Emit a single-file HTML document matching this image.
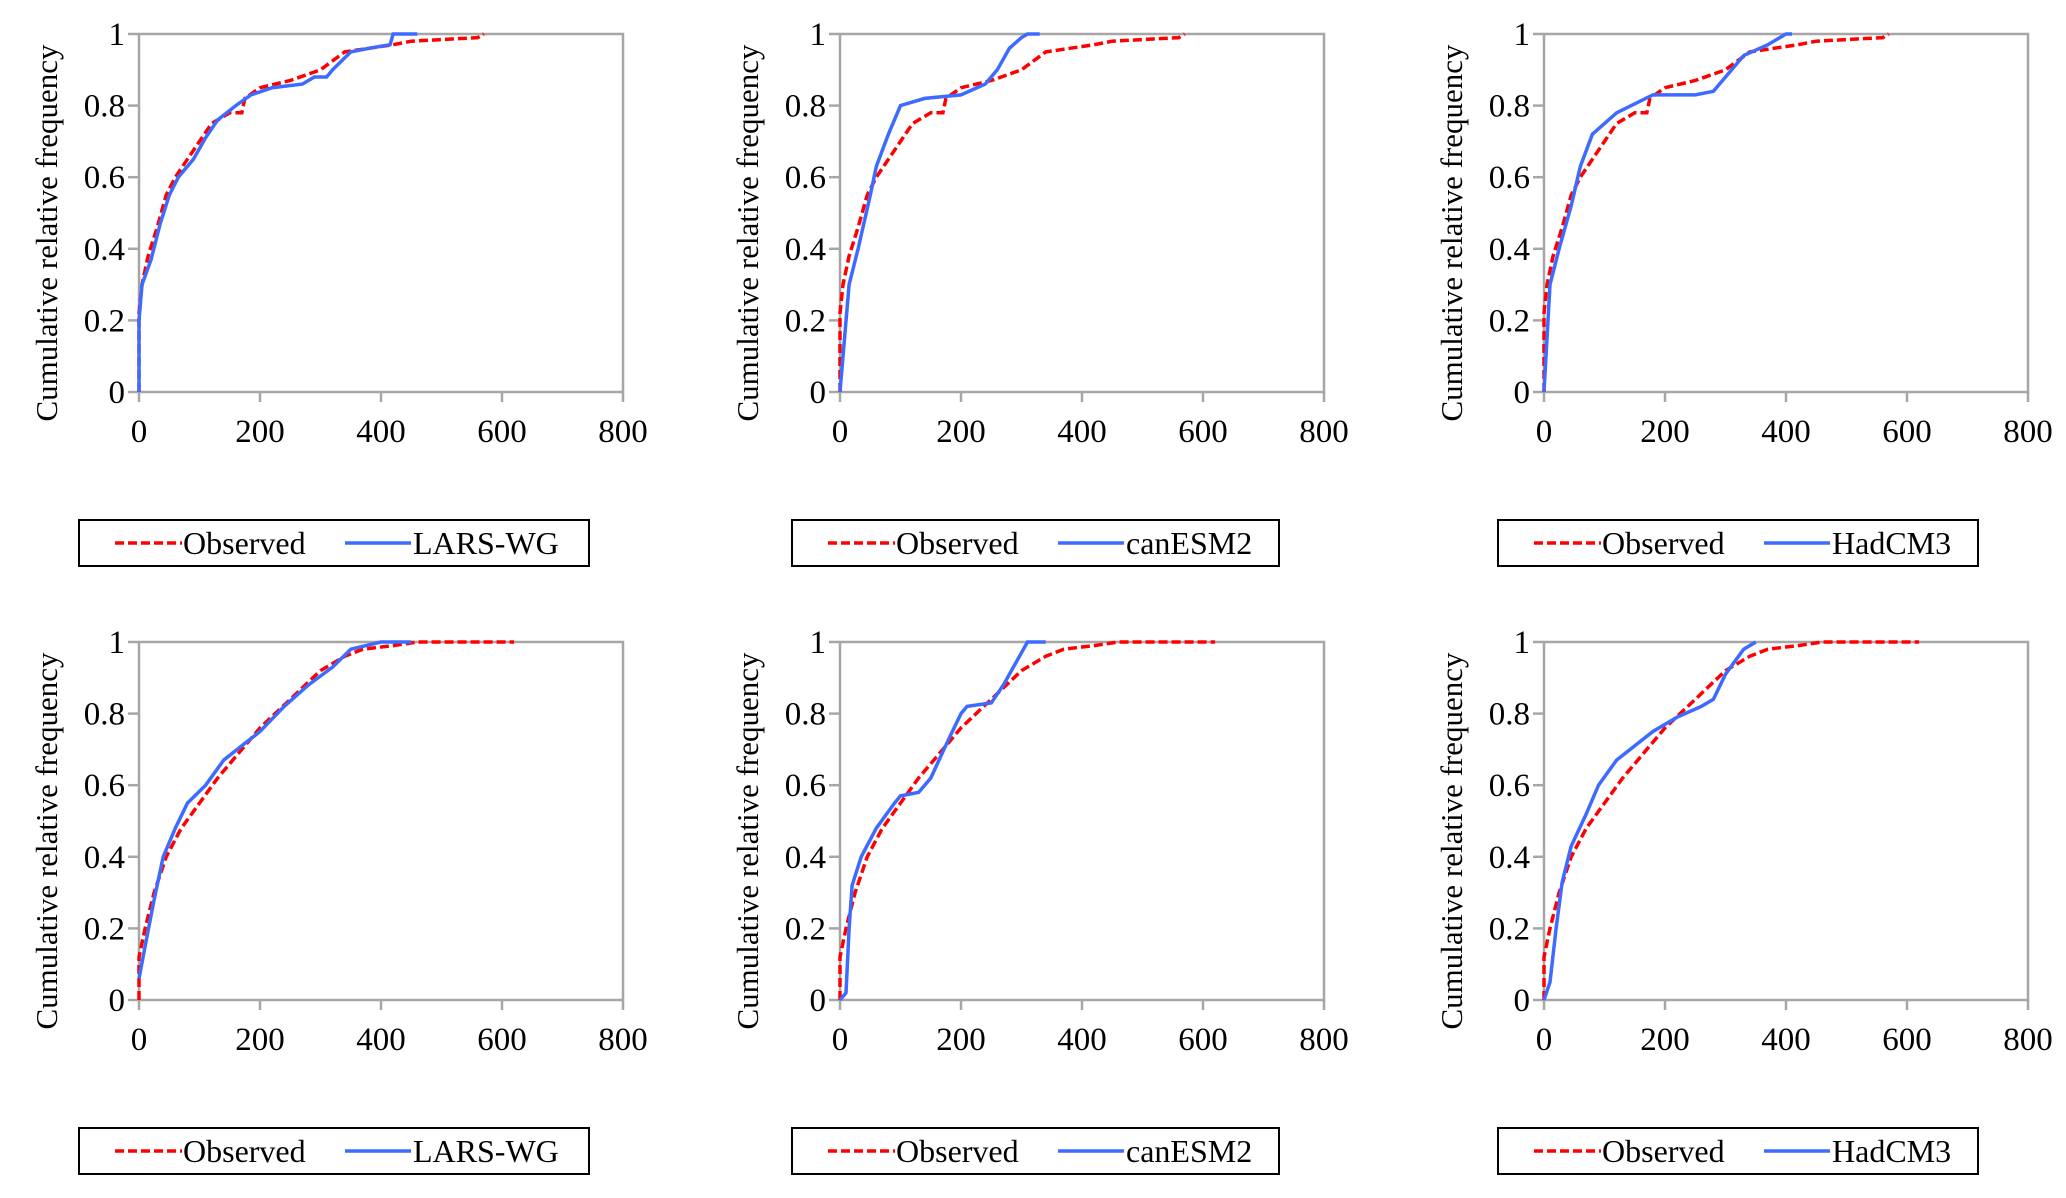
<!DOCTYPE html>
<html><head><meta charset="utf-8"><style>
html,body{margin:0;padding:0;background:#fff;}
svg, svg text{font-family:"Liberation Serif","Times New Roman",serif;}
</style></head><body>
<svg id="fig" width="2066" height="1193" viewBox="0 0 2066 1193"></svg>
<script>
const xTicks=[0,200,400,600,800];
const yTicks=[0,0.2,0.4,0.6,0.8,1];
const yTickLabels=["0","0.2","0.4","0.6","0.8","1"];
const modelNames=["LARS-WG","canESM2","HadCM3"];
const obsX1=[0,0,5,15,30,45,60,80,100,120,150,170,175,200,250,300,340,380,420,450,560,570];
const obsY1=[0,0.22,0.3,0.38,0.46,0.55,0.6,0.65,0.7,0.75,0.78,0.78,0.82,0.85,0.87,0.9,0.95,0.96,0.97,0.98,0.99,1];
const obsX2=[0,0,10,25,45,70,100,130,170,200,250,300,340,370,420,460,620];
const obsY2=[0,0.12,0.2,0.3,0.4,0.48,0.55,0.62,0.7,0.76,0.84,0.92,0.96,0.98,0.99,1,1];
const larsX1=[0,0,5,20,35,50,65,90,110,130,160,185,220,270,290,310,320,350,380,415,420,460];
const larsY1=[0,0.2,0.3,0.37,0.47,0.55,0.6,0.65,0.71,0.76,0.8,0.83,0.85,0.86,0.88,0.88,0.9,0.95,0.96,0.97,1,1];
const canX1=[0,5,15,30,50,60,80,100,140,200,240,260,280,300,310,330];
const canY1=[0,0.1,0.3,0.4,0.55,0.63,0.72,0.8,0.82,0.83,0.86,0.9,0.96,0.99,1,1];
const hadX1=[0,5,10,25,45,60,80,120,180,250,280,300,330,370,400,410];
const hadY1=[0,0.15,0.3,0.4,0.52,0.63,0.72,0.78,0.83,0.83,0.84,0.88,0.94,0.97,1,1];
const larsX2=[0,10,25,40,60,80,110,140,170,200,240,280,320,350,400,450];
const larsY2=[0.06,0.15,0.28,0.4,0.48,0.55,0.6,0.67,0.71,0.75,0.82,0.88,0.93,0.98,1,1];
const canX2=[0,10,15,20,35,60,90,100,130,150,180,200,210,250,270,300,310,340];
const canY2=[0,0.02,0.2,0.32,0.4,0.48,0.55,0.57,0.58,0.62,0.73,0.8,0.82,0.83,0.88,0.97,1,1];
const hadX2=[0,10,20,30,45,70,90,120,150,180,220,260,280,300,330,350];
const hadY2=[0,0.05,0.2,0.33,0.43,0.52,0.6,0.67,0.71,0.75,0.79,0.82,0.84,0.91,0.98,1];

const NS="http://www.w3.org/2000/svg";
const svg=document.getElementById('fig');
const FF='"Liberation Serif", serif';
function mk(tag,attrs,parent){const e=document.createElementNS(NS,tag);for(const k in attrs)e.setAttribute(k,attrs[k]);if(tag==='text')e.setAttribute('font-family',FF);(parent||svg).appendChild(e);return e;}
const colL=[139,840,1544], W=484;
const rowT=[34,642], H=358;
const legX=[[79,589],[792,1279],[1498,1978]], legY=[520,1128];
const panels=[
 [obsX1,obsY1,larsX1,larsY1],[obsX1,obsY1,canX1,canY1],[obsX1,obsY1,hadX1,hadY1],
 [obsX2,obsY2,larsX2,larsY2],[obsX2,obsY2,canX2,canY2],[obsX2,obsY2,hadX2,hadY2]];
panels.forEach((p,i)=>{
 const c=i%3,r=Math.floor(i/3);
 const L=colL[c],T=rowT[r],B=T+H,R=L+W;
 const sx=v=>L+v/800*W, sy=v=>B-v*H;
 const g=mk('g',{});
 
 
 const frame=mk('rect',{x:L,y:T,width:W,height:H,fill:'none',stroke:'#a6a6a6','stroke-width':2.5},g);
 
 
 yTicks.forEach((t,k)=>{
  mk('line',{x1:L-11,x2:L,y1:sy(t),y2:sy(t),stroke:'#a6a6a6','stroke-width':2.5},g);
  const tx=mk('text',{x:L-14,y:sy(t)+11,'text-anchor':'end','font-size':33},g);
  tx.textContent=yTickLabels[k];
  
  
 });
 xTicks.forEach(t=>{
  mk('line',{x1:sx(t),x2:sx(t),y1:B,y2:B+10,stroke:'#a6a6a6','stroke-width':2.5},g);
  const tx=mk('text',{x:sx(t),y:B+50,'text-anchor':'middle','font-size':33},g);
  tx.textContent=String(t);
  
  
 });
 const yt=mk('text',{x:0,y:0,'text-anchor':'middle','font-size':31,transform:`translate(${L-82},${(T+B)/2+20}) rotate(-90)`},g);
 yt.textContent='Cumulative relative frequency';
 
 
 const pts=(xs,ys)=>xs.map((x,k)=>sx(x).toFixed(1)+','+sy(ys[k]).toFixed(1)).join(' ');
 const obs=mk('polyline',{points:pts(p[0],p[1]),fill:'none',stroke:'#ff0000','stroke-width':3.5,'stroke-dasharray':'9,4'},g);
 
 
 const mod=mk('polyline',{points:pts(p[2],p[3]),fill:'none',stroke:'#3d6bff','stroke-width':3.5},g);
 
 
 const lx0=legX[c][0],lx1=legX[c][1],ly=legY[r];
 const lg=mk('g',{},g);
 
 
 mk('rect',{x:lx0,y:ly,width:lx1-lx0,height:46,fill:'#fff',stroke:'#000','stroke-width':2},lg);
 const cy=ly+23;
 mk('line',{x1:lx0+36,x2:lx0+103,y1:cy,y2:cy,stroke:'#ff0000','stroke-width':3.5,'stroke-dasharray':'9,4'},lg);
 const t1=mk('text',{x:lx0+104,y:cy+11,'font-size':32},lg);
 t1.textContent='Observed';
 
 
 const m0=lx0+266;
 mk('line',{x1:m0,x2:m0+66,y1:cy,y2:cy,stroke:'#3d6bff','stroke-width':3.5},lg);
 const t2=mk('text',{x:m0+68,y:cy+11,'font-size':32},lg);
 t2.textContent=modelNames[c];
 
 
});
</script>
</body></html>
